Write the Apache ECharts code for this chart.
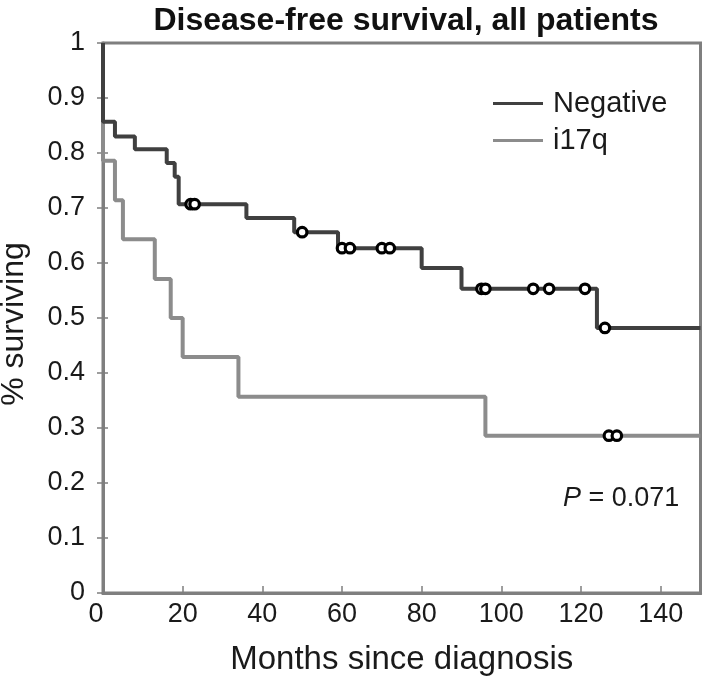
<!DOCTYPE html>
<html>
<head>
<meta charset="utf-8">
<script src="https://cdn.jsdelivr.net/npm/echarts@6/dist/echarts.min.js"></script>
<style>
html,body{margin:0;padding:0;background:#fff;}
#chart{width:705px;height:682px;}
</style>
</head>
<body>
<div id="chart"></div>
<script>
// Kaplan-Meier step data (time in months, survival fraction after the step)
var negTimes = [0, 0, 3, 8, 16, 18, 19, 36, 48, 59, 80, 90, 124, 150];
var negSurv  = [1, 0.857, 0.83, 0.807, 0.782, 0.757, 0.707, 0.682, 0.656, 0.627, 0.591, 0.553, 0.482, 0.482];
var i17qTimes = [0, 0, 3, 5, 13, 17, 20, 34, 96, 150];
var i17qSurv  = [1, 0.786, 0.714, 0.643, 0.571, 0.5, 0.429, 0.357, 0.286, 0.286];
// Censored observations
var negCensorT = [22, 23, 50, 60, 62, 70, 72, 95, 96, 108, 112, 121, 126];
var negCensorS = [0.707, 0.707, 0.656, 0.627, 0.627, 0.627, 0.627, 0.553, 0.553, 0.553, 0.553, 0.553, 0.482];
var i17qCensorT = [127, 129];
var i17qCensorS = [0.286, 0.286];
var seriesNames = ['Negative', 'i17q'];
var xTicks = [0, 20, 40, 60, 80, 100, 120, 140];
var yTicks = [0, 0.1, 0.2, 0.3, 0.4, 0.5, 0.6, 0.7, 0.8, 0.9, 1];

function zip(a, b) { return a.map(function (v, i) { return [v, b[i]]; }); }

var FONT = '"Liberation Sans", Arial, sans-serif';
var AXIS = '#7f7f7f';
var DARK = '#404040';
var LIGHT = '#8c8c8c';

var chart = echarts.init(document.getElementById('chart'), null, {renderer: 'canvas'});
var option = {
  backgroundColor: '#fff',
  animation: false,
  title: {
    text: 'Disease-free survival, all patients',
    left: 401, top: 0, textAlign: 'center',
    textStyle: {fontFamily: FONT, fontWeight: 'bold', fontSize: 32, color: '#111'}
  },
  grid: {left: 103, right: 4.5, top: 43, bottom: 89, show: true, borderColor: AXIS, borderWidth: 3,
         backgroundColor: 'transparent', containLabel: false, outerBoundsMode: 'none'},
  legend: {
    orient: 'vertical', left: 493, top: 89, itemGap: 8, padding: 0,
    itemWidth: 50, itemHeight: 3, icon: 'rect',
    data: seriesNames,
    textStyle: {fontFamily: FONT, fontSize: 29, color: '#1a1a1a', padding: [0, 0, 0, 5]}
  },
  xAxis: [{
    type: 'value', min: 0, max: 150, interval: 20,
    name: 'Months since diagnosis', nameLocation: 'middle', nameGap: 50,
    nameTextStyle: {fontFamily: FONT, fontSize: 33, color: '#1a1a1a'},
    axisLine: {show: true, onZero: false, lineStyle: {color: AXIS, width: 3}},
    axisTick: {show: true, inside: true, length: 7, lineStyle: {color: AXIS, width: 1.5}},
    axisLabel: {fontFamily: FONT, fontSize: 27, color: '#1a1a1a', margin: 8, showMaxLabel: false,
      formatter: function (v) { return v === 0 ? '{z|0}' : String(v); },
      rich: {z: {fontFamily: FONT, fontSize: 27, color: '#1a1a1a', padding: [0, 14, 0, 0]}}},
    splitLine: {show: false}
  }, {
    type: 'value', min: 0, max: 150, interval: 20, position: 'bottom',
    axisLine: {show: false}, axisLabel: {show: false}, splitLine: {show: false},
    axisTick: {show: true, inside: false, length: 2, lineStyle: {color: AXIS, width: 1.5}}
  }],
  yAxis: [{
    type: 'value', min: 0, max: 1, interval: 0.1,
    name: '% surviving', nameLocation: 'middle', nameGap: 73, nameRotate: 90,
    nameTextStyle: {fontFamily: FONT, fontSize: 32, color: '#1a1a1a', padding: [0, 12, 0, 0]},
    axisLine: {show: true, onZero: false, lineStyle: {color: AXIS, width: 3}},
    axisTick: {show: true, inside: false, length: 6, lineStyle: {color: AXIS, width: 1.5}},
    axisLabel: {fontFamily: FONT, fontSize: 27, color: '#1a1a1a', margin: 18},
    splitLine: {show: false}
  }, {
    type: 'value', min: 0, max: 1, interval: 0.1, position: 'left',
    axisLine: {show: false}, axisLabel: {show: false}, splitLine: {show: false},
    axisTick: {show: true, inside: true, length: 5, lineStyle: {color: AXIS, width: 1.5}}
  }],
  graphic: [{
    type: 'text', left: 563, top: 485, z: 10,
    style: {
      text: '{i|P} = 0.071',
      font: '27px ' + FONT, fill: '#1a1a1a',
      rich: {i: {fontStyle: 'italic', fontSize: 27, fontFamily: FONT, fill: '#1a1a1a'}}
    }
  }],
  series: [{
    name: seriesNames[0], type: 'line', step: 'end', showSymbol: false, symbol: 'none',
    data: zip(negTimes, negSurv), color: DARK,
    lineStyle: {color: DARK, width: 4}, z: 3
  }, {
    name: seriesNames[1], type: 'line', step: 'end', showSymbol: false, symbol: 'none',
    data: zip(i17qTimes, i17qSurv), color: LIGHT,
    lineStyle: {color: LIGHT, width: 4}, z: 2
  }, {
    type: 'scatter', data: zip(negCensorT, negCensorS), symbol: 'circle', symbolSize: 9.5,
    itemStyle: {color: '#fff', borderColor: '#000', borderWidth: 3.2, opacity: 1}, z: 5
  }, {
    type: 'scatter', data: zip(i17qCensorT, i17qCensorS), symbol: 'circle', symbolSize: 9.5,
    itemStyle: {color: '#fff', borderColor: '#000', borderWidth: 3.2, opacity: 1}, z: 5
  }]
};
chart.setOption(option);
</script>
</body>
</html>
